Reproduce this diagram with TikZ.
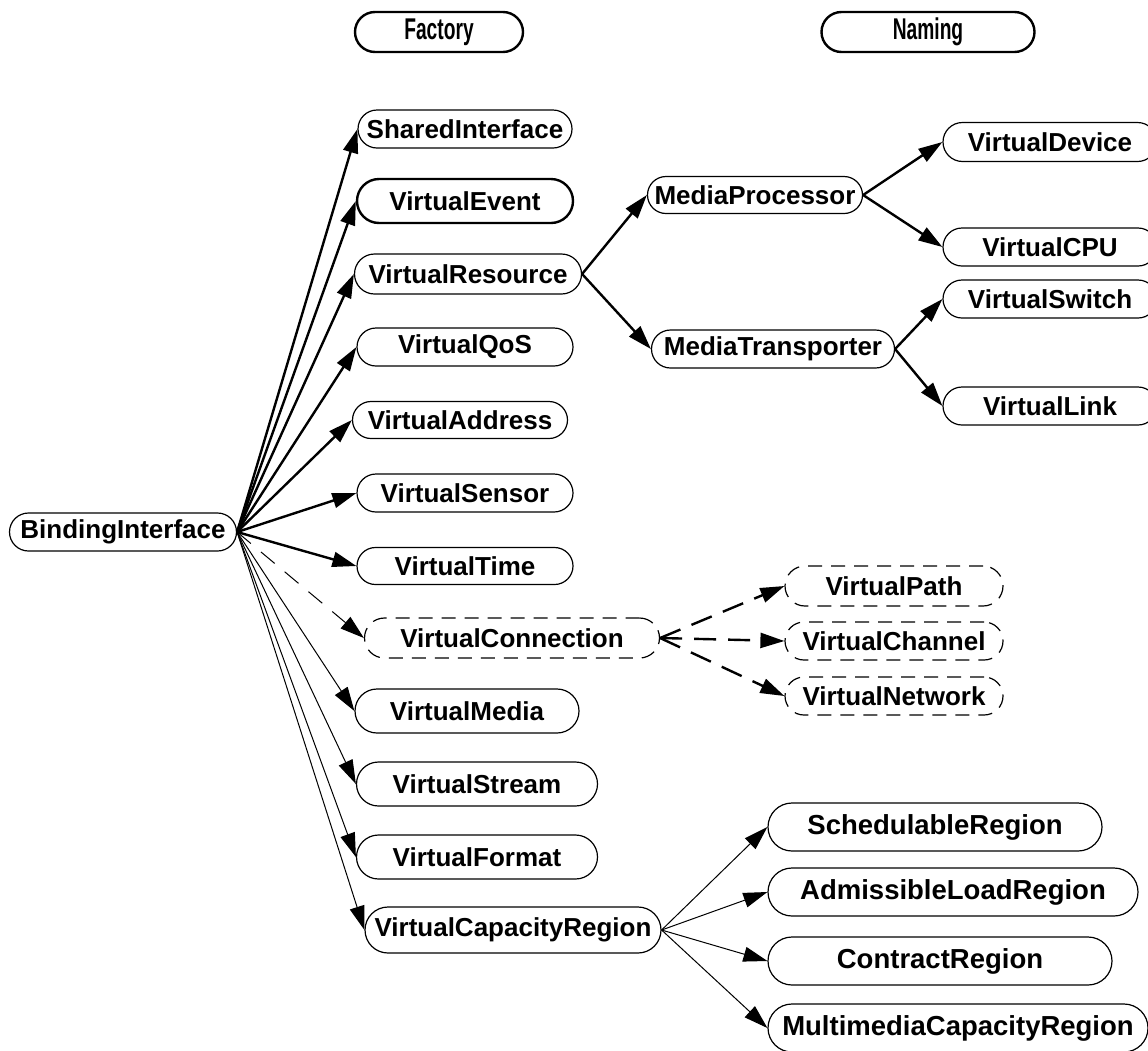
\documentclass[tikz,border=0pt]{standalone}
\usepackage{fontspec}
\setsansfont{Liberation Sans}
\usetikzlibrary{arrows.meta}

\tikzset{
  pill/.style n args={2}{draw, line width=1.2pt, inner sep=0pt,
    minimum width=#1, minimum height=#2, rounded corners=#2*0.5,
    font=\sffamily\bfseries\fontsize{26}{30}\selectfont},
  bigtext/.style={font=\sffamily\bfseries\fontsize{27.5}{32}\selectfont},
  heavy/.style={line width=2.4pt},
  dashedbox/.style={dash pattern=on 14pt off 9pt},
  tip/.style={-{Triangle[length=24pt,width=15pt]}},
  thickedge/.style={tip, line width=2.4pt},
  thinedge/.style={tip, line width=1pt},
  dashthin/.style={tip, line width=1pt, dash pattern=on 18pt off 13pt},
  dashthick/.style={tip, line width=2.4pt, dash pattern=on 22pt off 12pt}
}
\newcommand{\condensed}[1]{{\fontsize{30}{34}\selectfont\scalebox{0.64}[1]{#1}}}

\begin{document}
\begin{tikzpicture}[x=1pt, y=-1pt]
  \useasboundingbox (0,0) rectangle (1148,1050);
  \clip (0,0) rectangle (1148,1050);

  % header boxes
  \node[pill={168pt}{40pt}, heavy] (factory) at (439,32) {\condensed{Factory}};
  \node[pill={213pt}{40pt}, heavy] (naming) at (928,32) {\condensed{Naming}};

  % root
  \node[pill={227pt}{38pt}] (bind) at (123,532) {BindingInterface};

  % first level
  \node[pill={214pt}{38pt}] (shared) at (465,129) {SharedInterface};
  \node[pill={216pt}{44pt}, heavy] (event) at (465,201) {VirtualEvent};
  \node[pill={227pt}{40pt}] (resource) at (468,274) {VirtualResource};
  \node[pill={216pt}{38pt}] (qos) at (465,347) {VirtualQoS};
  \node[pill={215pt}{37pt}] (address) at (460,420) {VirtualAddress};
  \node[pill={216pt}{38pt}] (sensor) at (465,493) {VirtualSensor};
  \node[pill={216pt}{37pt}] (time) at (465,566) {VirtualTime};
  \node[pill={295pt}{40pt}, dashedbox] (conn) at (512,638) {VirtualConnection};
  \node[pill={224pt}{44pt}] (media) at (467,711) {VirtualMedia};
  \node[pill={241pt}{44pt}] (stream) at (477,784) {VirtualStream};
  \node[pill={241pt}{44pt}] (format) at (477,857) {VirtualFormat};
  \node[pill={296pt}{46pt}] (capacity) at (513,930) {VirtualCapacityRegion};

  % resource branch
  \node[pill={215pt}{37pt}] (proc) at (755,195) {MediaProcessor};
  \node[pill={243pt}{38pt}] (trans) at (773,349) {MediaTransporter};
  \node[pill={214pt}{39pt}] (device) at (1050,142) {VirtualDevice};
  \node[pill={214pt}{38pt}] (cpu) at (1050,247) {VirtualCPU};
  \node[pill={214pt}{38pt}] (switch) at (1050,299) {VirtualSwitch};
  \node[pill={214pt}{38pt}] (link) at (1050,406) {VirtualLink};

  % connection branch
  \node[pill={218pt}{40pt}, dashedbox] (vpath) at (894,586) {VirtualPath};
  \node[pill={218pt}{38pt}, dashedbox] (channel) at (894,641) {VirtualChannel};
  \node[pill={218pt}{38pt}, dashedbox] (network) at (894,696) {VirtualNetwork};

  % capacity branch
  \node[pill={334pt}{48pt}, bigtext] (sched) at (935,827) {SchedulableRegion};
  \node[pill={370pt}{48pt}, bigtext] (admiss) at (953,892) {AdmissibleLoadRegion};
  \node[pill={344pt}{48pt}, bigtext] (contract) at (940,961) {ContractRegion};
  \node[pill={380pt}{48pt}, bigtext] (multi) at (958,1028) {MultimediaCapacityRegion};

  % edges from the root
  \foreach \t in {shared, event, resource, qos, address, sensor, time}
    \draw[thickedge] (bind.east) -- (\t.west);
  \draw[dashthin] (bind.east) -- (conn.west);
  \foreach \t in {media, stream, format, capacity}
    \draw[thinedge] (bind.east) -- (\t.west);

  % resource subtree
  \draw[thickedge] (resource.east) -- (proc.west);
  \draw[thickedge] (resource.east) -- (trans.west);
  \draw[thickedge] (proc.east) -- (device.west);
  \draw[thickedge] (proc.east) -- (cpu.west);
  \draw[thickedge] (trans.east) -- (switch.west);
  \draw[thickedge] (trans.east) -- (link.west);

  % connection subtree
  \foreach \t in {vpath, channel, network}
    \draw[dashthick] (conn.east) -- (\t.west);

  % capacity subtree
  \foreach \t in {sched, admiss, contract, multi}
    \draw[thinedge] (capacity.east) -- (\t.west);
\end{tikzpicture}
\end{document}
